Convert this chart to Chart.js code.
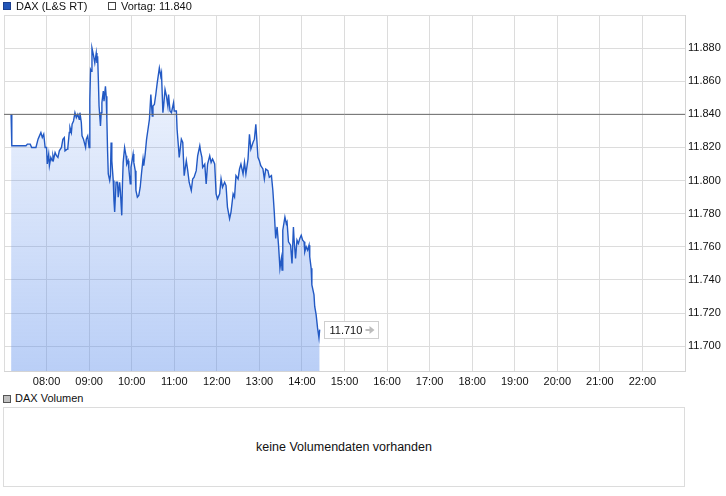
<!DOCTYPE html>
<html><head><meta charset="utf-8">
<script src="https://cdn.jsdelivr.net/npm/chart.js@4.4.0/dist/chart.umd.min.js"></script>
<style>
html,body{margin:0;padding:0;background:#fff;}
#wrap{position:relative;width:726px;height:496px;overflow:hidden;font-family:"Liberation Sans",Arial,sans-serif;font-size:11px;color:#111;}
#c{position:absolute;left:0;top:0;}
.lg{position:absolute;white-space:nowrap;line-height:13px;}
.sq{position:absolute;width:8px;height:8px;box-sizing:border-box;border:1px solid #333;}
#vol{position:absolute;left:3px;top:407px;width:682px;height:80px;box-sizing:border-box;border:1px solid #dcdcdc;}
#nodata{position:absolute;left:0;right:0;top:0;bottom:0;display:flex;align-items:center;justify-content:center;font-size:12.5px;}
</style></head>
<body>
<div id="wrap">
  <canvas id="c" width="726" height="392"></canvas>
  <div class="sq" style="left:3px;top:2px;background:#2356b8;border-color:#1b3f8f"></div>
  <div class="lg" id="lg1" style="left:16px;top:0px"></div>
  <div class="sq" style="left:108px;top:2px;background:#fff;border-color:#444"></div>
  <div class="lg" id="lg2" style="left:121px;top:0px"></div>
  <div class="sq" style="left:3px;top:395px;background:#c0c0c0;border-color:#555"></div>
  <div class="lg" id="lg3" style="left:15px;top:392px"></div>
  <div id="vol"><div id="nodata"></div></div>
</div>
<script>
const seriesName = 'DAX (L&S RT)';
const prevLabel = 'Vortag';
const prevClose = 11.840;
const lastPrice = 11.710;
const volumeName = 'DAX Volumen';
const noVolumeText = 'keine Volumendaten vorhanden';

// minutes of day
const timeMin = [
430,431,451,453,457,459,465,468,470,472,
474,476,478,480,481,483,484,486,488,489,
490,492,494,496,498,501,503,505,506,509,
510,512,513,515,516,518,520,522,524,526,
527,529,530,532,535,536,538,540,541,542,
543,544,546,548,550,551,552,553,554,556,
557,558,560,561,563,564,565,566,567,569,
570,571,572,574,575,576,578,580,581,583,
584,586,587,588,590,592,593,595,596,598,
599,602,603,605,606,608,610,612,614,616,
617,619,621,623,625,627,629,630,632,634,
636,638,639,641,642,644,645,647,649,651,
652,654,656,659,660,663,664,666,667,670,
672,674,677,679,681,684,686,688,691,693,
696,697,699,700,703,705,707,710,712,714,
717,719,721,724,726,728,731,733,735,738,
740,743,745,747,750,752,754,757,759,761,
764,766,768,771,773,775,778,780,782,785,
787,789,792,794,797,799,801,803,805,807,
809,811,812,813,816,818,819,821,824,826,
828,829,831,833,835,837,839,841,843,844,
846,848,850,851,853,854,857,858,860,862,
864,865];

const prices = [
11.840,11.821,11.821,11.822,11.822,11.820,11.820,11.825,11.827,11.829,
11.826,11.828,11.820,11.820,11.810,11.816,11.809,11.814,11.812,11.815,
11.813,11.817,11.815,11.814,11.818,11.820,11.825,11.826,11.818,11.819,
11.820,11.829,11.832,11.829,11.834,11.836,11.841,11.838,11.840,11.837,
11.841,11.835,11.827,11.825,11.820,11.825,11.827,11.820,11.849,11.867,
11.866,11.880,11.876,11.871,11.877,11.871,11.875,11.861,11.845,11.833,
11.841,11.847,11.854,11.848,11.857,11.851,11.837,11.818,11.804,11.800,
11.803,11.823,11.812,11.800,11.788,11.781,11.799,11.799,11.790,11.799,
11.794,11.779,11.798,11.811,11.820,11.815,11.810,11.812,11.807,11.798,
11.808,11.816,11.811,11.806,11.794,11.790,11.791,11.796,11.805,11.813,
11.809,11.816,11.825,11.831,11.837,11.852,11.839,11.845,11.846,11.852,
11.859,11.865,11.868,11.863,11.865,11.841,11.845,11.855,11.851,11.845,
11.852,11.842,11.841,11.847,11.842,11.842,11.831,11.820,11.814,11.825,
11.823,11.803,11.812,11.806,11.799,11.794,11.801,11.802,11.806,11.815,
11.821,11.818,11.814,11.808,11.810,11.798,11.810,11.815,11.811,11.813,
11.810,11.792,11.789,11.792,11.801,11.796,11.799,11.797,11.784,11.777,
11.781,11.792,11.790,11.803,11.801,11.807,11.810,11.804,11.811,11.804,
11.813,11.828,11.819,11.823,11.825,11.834,11.814,11.812,11.809,11.807,
11.801,11.807,11.806,11.802,11.803,11.794,11.781,11.765,11.772,11.761,
11.747,11.753,11.746,11.770,11.778,11.774,11.775,11.763,11.761,11.750,
11.772,11.764,11.753,11.764,11.762,11.765,11.767,11.764,11.763,11.757,
11.760,11.758,11.761,11.754,11.747,11.737,11.731,11.724,11.719,11.711,
11.705,11.710];

const tickHours = [7,8,9,10,11,12,13,14,15,16,17,18,19,20,21,22,23];
const yTickValues = [11.70,11.72,11.74,11.76,11.78,11.80,11.82,11.84,11.86,11.88,11.90];
const xMin = 7*60, xMax = 23*60;
const yMin = 11.685, yMax = 11.900;

document.getElementById('lg1').textContent = seriesName;
document.getElementById('lg2').textContent = prevLabel + ': ' + prevClose.toFixed(3);
document.getElementById('lg3').textContent = volumeName;
document.getElementById('nodata').textContent = noVolumeText;

Chart.defaults.font.family = '"Liberation Sans", Arial, sans-serif';
Chart.defaults.font.size = 11;
Chart.defaults.color = '#111';

const fmtTime = v => { const h = Math.floor(v/60); return (h<10?'0':'')+h+':00'; };

const lastLabel = {
  id:'lastLabel',
  afterDatasetsDraw(chart){
    const meta = chart.getDatasetMeta(0);
    const pt = meta.data[meta.data.length-1];
    if(!pt) return;
    const c = chart.ctx;
    const y = chart.scales.y.getPixelForValue(lastPrice);
    const x0 = Math.round(pt.x + 4) + 0.5, w = 54, h = 17;
    const y0 = Math.round(y - h/2) + 0.5;
    c.save();
    c.fillStyle = '#fff'; c.strokeStyle = '#cfcfcf'; c.lineWidth = 1;
    c.fillRect(x0, y0, w, h); c.strokeRect(x0, y0, w, h);
    c.fillStyle = '#111'; c.font = '11px "Liberation Sans", Arial, sans-serif';
    c.textBaseline = 'middle'; c.textAlign = 'left';
    c.fillText(lastPrice.toFixed(3), x0 + 5, y0 + h/2 + 0.5);
    // arrow
    const ax = x0 + 41, ay = y0 + h/2;
    c.strokeStyle = '#bdbdbd'; c.fillStyle = '#bdbdbd'; c.lineWidth = 2;
    c.beginPath(); c.moveTo(ax, ay); c.lineTo(ax+5, ay); c.stroke();
    c.beginPath(); c.moveTo(ax+4, ay-4); c.lineTo(ax+9, ay); c.lineTo(ax+4, ay+4); c.closePath(); c.fill();
    c.restore();
  }
};

new Chart(document.getElementById('c'), {
  type:'line',
  data:{datasets:[
    {
      label: seriesName,
      data: timeMin.map((t,i)=>({x:t, y:prices[i]})),
      borderColor:'#2259c4', borderWidth:1.4, pointRadius:0, tension:0,
      fill:'start',
      backgroundColor:(ctx)=>{
        const a = ctx.chart.chartArea;
        if(!a) return 'rgba(90,140,235,0.2)';
        const g = ctx.chart.ctx.createLinearGradient(0, a.top, 0, a.bottom);
        g.addColorStop(0, 'rgba(90,140,235,0.04)');
        g.addColorStop(1, 'rgba(90,140,235,0.42)');
        return g;
      }
    },
    {
      label: prevLabel,
      data:[{x:xMin, y:prevClose},{x:xMax, y:prevClose}],
      borderColor:'#6a6a6a', borderWidth:1, pointRadius:0, fill:false, order:-1
    }
  ]},
  options:{
    responsive:false, animation:false, events:[],
    layout:{padding:{left:3, top:15, right:0, bottom:0}},
    plugins:{legend:{display:false}, tooltip:{enabled:false}},
    scales:{
      x:{
        type:'linear', min:xMin, max:xMax,
        grid:{color:'#dcdcdc', drawTicks:false},
        border:{color:'#d4d4d4'},
        ticks:{padding:4, autoSkip:false, maxRotation:0,
          callback:(v)=> (v===xMin||v===xMax)?'':fmtTime(v)},
        afterBuildTicks(s){ s.ticks = tickHours.map(h=>({value:h*60})); },
        afterFit(s){ s.height = 21; }
      },
      y:{
        position:'right', min:yMin, max:yMax,
        grid:{color:'#dcdcdc', drawTicks:false},
        border:{color:'#d4d4d4'},
        ticks:{padding:3, callback:(v)=> v>11.895 ? '' : v.toFixed(3)},
        afterBuildTicks(s){ s.ticks = yTickValues.map(v=>({value:v})); },
        afterFit(s){ s.width = 41; }
      }
    }
  },
  plugins:[lastLabel]
});
</script>
</body></html>
